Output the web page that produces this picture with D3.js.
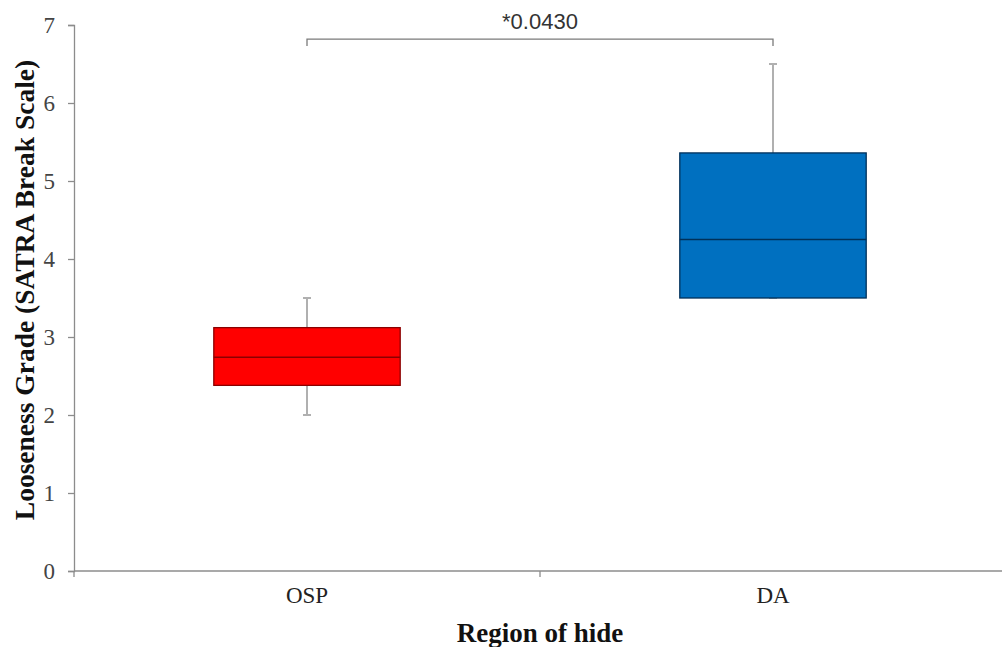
<!DOCTYPE html>
<html>
<head>
<meta charset="utf-8">
<script src="https://cdn.jsdelivr.net/npm/d3@7"></script>
<style>
  body { margin: 0; background: #fff; }
  svg { display: block; }
</style>
</head>
<body>
<div id="chart"></div>
<script>
// Box plot data
const regions = ["OSP", "DA"];
const whiskerLow = [2.0, 3.5];
const q1Values = [2.38, 3.5];
const medians = [2.74, 4.25];
const q3Values = [3.12, 5.36];
const whiskerHigh = [3.5, 6.5];
const boxColors = ["#ff0000", "#0070c0"];
const boxStrokes = ["#8b0000", "#00315a"];
const yTicks = [0, 1, 2, 3, 4, 5, 6, 7];
const pLabel = "*0.0430";
const bracketLevel = 6.82;
const bracketDrop = 0.09;

const width = 1002, height = 647;
const margin = {top: 25, right: -4, bottom: 76, left: 74};

const svg = d3.select('#chart')
    .append('svg')
    .attr('width', width)
    .attr('height', height);

const x = d3.scaleBand()
    .domain(regions)
    .range([margin.left, width - margin.right])
    .paddingInner(0)
    .paddingOuter(0);

const y = d3.scaleLinear()
    .domain([0, 7])
    .range([height - margin.bottom, margin.top]);

const boxW = x.bandwidth() * 0.4;
const axisColor = '#8c8c8c';
const serif = '"Liberation Serif", "Times New Roman", serif';

// Y axis
const yAxis = svg.append('g')
    .attr('transform', `translate(${margin.left},0)`)
    .call(d3.axisLeft(y).tickValues(yTicks).tickSize(6).tickPadding(13).tickFormat(d3.format('d')));
yAxis.select('.domain').attr('stroke', axisColor).attr('stroke-width', 1.3);
yAxis.selectAll('.tick line').attr('stroke', axisColor).attr('stroke-width', 1.3);
yAxis.selectAll('.tick text')
    .attr('fill', '#444')
    .style('font-family', serif)
    .style('font-size', '23px');

// X axis with ticks at category boundaries
const xAxis = svg.append('g')
    .attr('transform', `translate(0,${y(0)})`);
xAxis.append('line')
    .attr('x1', x.range()[0]).attr('x2', x.range()[1])
    .attr('y1', 0).attr('y2', 0)
    .attr('stroke', axisColor).attr('stroke-width', 1.3);
xAxis.selectAll('.boundary')
    .data(regions)
    .enter()
    .append('line')
    .attr('x1', d => x(d)).attr('x2', d => x(d))
    .attr('y1', 0).attr('y2', 6)
    .attr('stroke', axisColor).attr('stroke-width', 1.3);
xAxis.selectAll('.cat')
    .data(regions)
    .enter()
    .append('text')
    .attr('x', d => x(d) + x.bandwidth() / 2)
    .attr('y', 32)
    .attr('text-anchor', 'middle')
    .attr('fill', '#222')
    .style('font-family', serif)
    .style('font-size', '23px')
    .text(d => d);

// Boxes
const groups = svg.selectAll('.box')
    .data(regions)
    .enter()
    .append('g')
    .attr('class', 'box');

// whiskers
groups.append('line')
    .attr('x1', d => x(d) + x.bandwidth() / 2)
    .attr('x2', d => x(d) + x.bandwidth() / 2)
    .attr('y1', (d, i) => y(whiskerHigh[i]))
    .attr('y2', (d, i) => y(whiskerLow[i]))
    .attr('stroke', '#b0b0b0').attr('stroke-width', 2);
groups.append('line')
    .attr('x1', d => x(d) + x.bandwidth() / 2 - 4)
    .attr('x2', d => x(d) + x.bandwidth() / 2 + 4)
    .attr('y1', (d, i) => y(whiskerHigh[i]))
    .attr('y2', (d, i) => y(whiskerHigh[i]))
    .attr('stroke', '#b0b0b0').attr('stroke-width', 2);
groups.append('line')
    .attr('x1', d => x(d) + x.bandwidth() / 2 - 4)
    .attr('x2', d => x(d) + x.bandwidth() / 2 + 4)
    .attr('y1', (d, i) => y(whiskerLow[i]))
    .attr('y2', (d, i) => y(whiskerLow[i]))
    .attr('stroke', '#b0b0b0').attr('stroke-width', 2);

groups.append('rect')
    .attr('x', d => x(d) + (x.bandwidth() - boxW) / 2)
    .attr('width', boxW)
    .attr('y', (d, i) => y(q3Values[i]))
    .attr('height', (d, i) => y(q1Values[i]) - y(q3Values[i]))
    .attr('fill', (d, i) => boxColors[i])
    .attr('stroke', (d, i) => boxStrokes[i])
    .attr('stroke-width', 1.3);

groups.append('line')
    .attr('x1', d => x(d) + (x.bandwidth() - boxW) / 2)
    .attr('x2', d => x(d) + (x.bandwidth() + boxW) / 2)
    .attr('y1', (d, i) => y(medians[i]))
    .attr('y2', (d, i) => y(medians[i]))
    .attr('stroke', (d, i) => boxStrokes[i])
    .attr('stroke-width', 1.5);

// Significance bracket
const bx1 = x(regions[0]) + x.bandwidth() / 2;
const bx2 = x(regions[1]) + x.bandwidth() / 2;
svg.append('path')
    .attr('d', `M${bx1},${y(bracketLevel - bracketDrop)}V${y(bracketLevel)}H${bx2}V${y(bracketLevel - bracketDrop)}`)
    .attr('fill', 'none')
    .attr('stroke', '#7a7a7a')
    .attr('stroke-width', 1.3);
svg.append('text')
    .attr('x', (bx1 + bx2) / 2)
    .attr('y', y(bracketLevel) - 10)
    .attr('text-anchor', 'middle')
    .attr('fill', '#333')
    .style('font-family', '"Liberation Sans", Arial, sans-serif')
    .style('font-size', '22px')
    .text(pLabel);

// Axis titles
svg.append('text')
    .attr('x', (x.range()[0] + x.range()[1]) / 2)
    .attr('y', 642)
    .attr('text-anchor', 'middle')
    .attr('fill', '#111')
    .style('font-family', serif)
    .style('font-size', '27px')
    .style('font-weight', 'bold')
    .text('Region of hide');

svg.append('text')
    .attr('transform', `translate(34,290) rotate(-90)`)
    .attr('text-anchor', 'middle')
    .attr('fill', '#111')
    .style('font-family', serif)
    .style('font-size', '27.5px')
    .style('font-weight', 'bold')
    .text('Looseness Grade (SATRA Break Scale)');
</script>
</body>
</html>
